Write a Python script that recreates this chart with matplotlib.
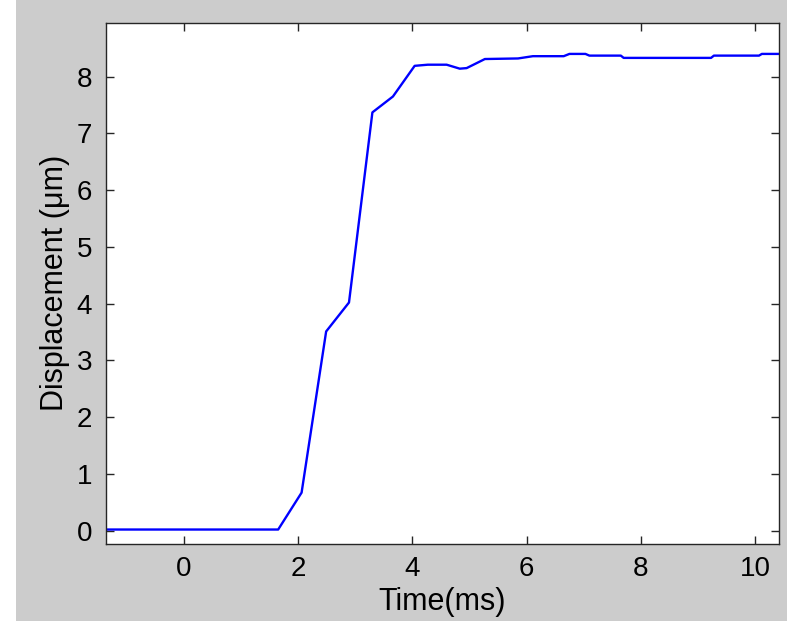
import matplotlib
matplotlib.use("Agg")
import matplotlib.pyplot as plt
from matplotlib.patches import Rectangle

time_ms = [-1.40, 1.65, 2.06, 2.49, 2.89, 3.30, 3.66, 4.04, 4.27, 4.60, 4.83, 4.95,
           5.27, 5.85, 6.11, 6.65, 6.75, 7.03, 7.10, 7.65, 7.70, 9.23, 9.28, 10.07,
           10.12, 10.45]
displacement_um = [0.02, 0.02, 0.67, 3.51, 4.02, 7.37, 7.65, 8.19, 8.21, 8.21, 8.14,
                   8.15, 8.31, 8.32, 8.36, 8.36, 8.40, 8.40, 8.37, 8.37, 8.33, 8.33,
                   8.37, 8.37, 8.40, 8.40]
x_ticks = [0, 2, 4, 6, 8, 10]
y_ticks = [0, 1, 2, 3, 4, 5, 6, 7, 8]

plt.rcParams['font.family'] = ['Liberation Sans', 'DejaVu Sans']

fig = plt.figure(figsize=(7.87, 6.21), dpi=100, facecolor='#cccccc')
fig.patches.append(Rectangle((0, 0), 16 / 787, 1, transform=fig.transFigure,
                             facecolor='white', edgecolor='none', zorder=0))
ax = fig.add_axes([106 / 787, 77 / 621, (779 - 106) / 787, (544 - 22.7) / 621])
ax.plot(time_ms, displacement_um, color='#0000ff', linewidth=1.7)
ax.set_xlim(-1.365, 10.42)
ax.set_ylim(-0.235, 8.95)
ax.set_xticks(x_ticks)
ax.set_yticks(y_ticks)
ax.tick_params(direction='in', length=6, width=1, top=True, right=True,
               labelsize=20, colors='#262626')
ax.tick_params(axis='x', pad=9)
ax.tick_params(axis='y', pad=10)
ax.tick_params(labelcolor='black')
for s in ax.spines.values():
    s.set_color('#262626')
    s.set_linewidth(1)
ax.set_xlabel('Time(ms)', fontsize=22, labelpad=3)
ax.set_ylabel('Displacement (μm)', fontsize=22, labelpad=5)
fig.savefig('out.png', dpi=100, facecolor=fig.get_facecolor())
